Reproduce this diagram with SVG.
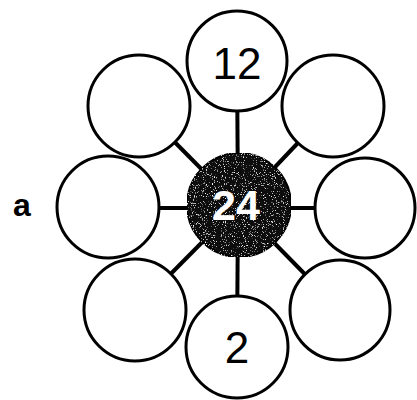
<svg xmlns="http://www.w3.org/2000/svg" width="417" height="400" viewBox="0 0 417 400">
<style>
.outer{fill:#fff;stroke:#000;stroke-width:3}
.conn line{stroke:#000;stroke-width:4}
.num{font-family:"Liberation Sans",Arial,sans-serif;font-size:44px;text-anchor:middle;fill:#000}
.cnum{font-family:"Liberation Sans",Arial,sans-serif;font-size:43px;font-weight:bold;text-anchor:middle;fill:#fff}
.lbl{font-family:"Liberation Sans",Arial,sans-serif;font-size:32px;font-weight:bold;fill:#000}
</style>
<defs>
<filter id="speck" x="0" y="0" width="100%" height="100%">
<feTurbulence type="fractalNoise" baseFrequency="0.9" numOctaves="2" seed="3" result="n"/>
<feColorMatrix in="n" type="matrix" values="0 0 0 0 1  0 0 0 0 1  0 0 0 0 1  5 0 0 0 -3.1" result="w"/>
<feComposite in="w" in2="SourceGraphic" operator="in" result="wc"/>
<feMerge><feMergeNode in="SourceGraphic"/><feMergeNode in="wc"/></feMerge>
</filter>
</defs>
<g id="connectors" class="conn">
<line x1="238" y1="206" x2="237" y2="61"/>
<line x1="238" y1="206" x2="139" y2="106"/>
<line x1="238" y1="206" x2="333" y2="106"/>
<line x1="238" y1="208" x2="108" y2="208"/>
<line x1="238" y1="208" x2="365" y2="208"/>
<line x1="238" y1="206" x2="135" y2="310"/>
<line x1="238" y1="206" x2="340" y2="310"/>
<line x1="238" y1="206" x2="237" y2="347"/>
</g>
<g id="node-top"><circle class="outer" cx="237" cy="61" r="50"/><text class="num" x="237" y="79">12</text></g>
<g id="node-top-left"><circle class="outer" cx="139" cy="106" r="51"/></g>
<g id="node-top-right"><circle class="outer" cx="333" cy="106" r="51"/></g>
<g id="node-left"><circle class="outer" cx="108" cy="207" r="51"/></g>
<g id="node-right"><circle class="outer" cx="365" cy="208" r="50"/></g>
<g id="node-bottom-left"><circle class="outer" cx="135" cy="310" r="51"/></g>
<g id="node-bottom-right"><circle class="outer" cx="340" cy="310" r="50"/></g>
<g id="node-bottom"><circle class="outer" cx="237" cy="347" r="51"/><text class="num" x="237" y="363">2</text></g>
<g id="node-center"><circle cx="239" cy="205" r="52" fill="#111" stroke="#000" stroke-width="2" filter="url(#speck)"/><text class="cnum" x="236" y="220">24</text></g>
<g id="label-a"><text class="lbl" x="13" y="216">a</text></g>
</svg>
